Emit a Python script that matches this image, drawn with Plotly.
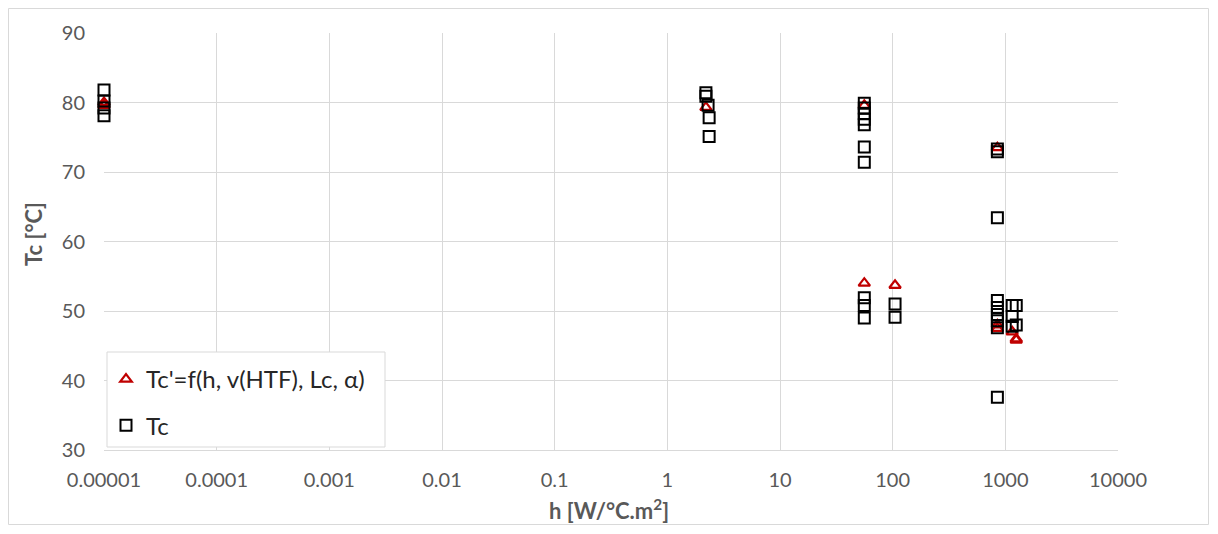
import plotly.graph_objects as go

# Tc' = f(h, v(HTF), Lc, alpha)  (red triangles)
h_pred = [1e-5, 1e-5, 2.2, 56, 56, 105, 850, 850, 850, 1150, 1250, 1250]
tc_pred = [80.0, 79.6, 79.3, 79.6, 54.0, 53.7, 73.5, 48.0, 47.5, 47.0, 45.8, 46.0]

# Tc (black squares)
h_meas = [1e-5, 1e-5, 1e-5, 1e-5,
          2.2, 2.2, 2.3, 2.35, 2.35,
          56, 56, 56, 56, 56, 56, 56, 56, 56, 56,
          105, 105,
          850, 850, 850, 850, 850, 850, 850, 850, 850,
          1150, 1150, 1150, 1250, 1250]
tc_meas = [81.8, 80.2, 79.2, 78.1,
           81.4, 80.9, 79.6, 77.8, 75.1,
           79.9, 79.2, 78.4, 77.6, 76.8, 73.6, 71.4, 51.9, 50.8, 49.0,
           51.0, 49.1,
           73.3, 72.9, 63.4, 51.5, 50.5, 49.5, 48.6, 47.6, 37.6,
           50.8, 49.2, 47.8, 50.8, 48.0]

x_tickvals = [1e-5, 1e-4, 1e-3, 1e-2, 1e-1, 1, 10, 100, 1000, 10000]
x_ticktext = ["0.00001", "0.0001", "0.001", "0.01", "0.1", "1", "10", "100", "1000", "10000"]
y_tickvals = [30, 40, 50, 60, 70, 80, 90]

x_title = "<b>h [W/°C.m<sup>2</sup>]</b>"
y_title = "<b>Tc [°C]</b>"
legend_pred = "Tc'=f(h, v(HTF), Lc, α)"
legend_meas = "Tc"

FONT = "Lato"
GRAY = "#595959"

fig = go.Figure()
fig.add_trace(go.Scatter(
    x=h_pred, y=tc_pred, mode="markers", name=legend_pred, legendgroup="a",
    cliponaxis=False,
    marker=dict(symbol="triangle-up-open", size=10, color="#c00000",
                line=dict(width=2.2, color="#c00000")),
))
fig.add_trace(go.Scatter(
    x=h_meas, y=tc_meas, mode="markers", name=legend_meas, legendgroup="b",
    cliponaxis=False,
    marker=dict(symbol="square-open", size=11, color="#000000",
                line=dict(width=2, color="#000000")),
))

# page has an 8px body margin; figure coordinates = page coordinates - 8
OFF = 8
W, H = 1218 - 2 * OFF, 534 - 2 * OFF
L, T = 104 - OFF, 33 - OFF
R = W - (1118 - OFF)
B = H - (450 - OFF)
pw, ph = W - L - R, H - T - B

def px_to_paper_x(px):
    return (px - OFF - L) / pw

def px_to_paper_y(py):
    return (H - B - (py - OFF)) / ph

shapes = [
    # outer chart border
    dict(type="rect", xref="paper", yref="paper",
         x0=px_to_paper_x(8.5), x1=px_to_paper_x(1208.5),
         y0=px_to_paper_y(524.5), y1=px_to_paper_y(8.5),
         line=dict(color="#d9d9d9", width=1), layer="below"),
    # vertical axis crossing at h=1
    dict(type="line", xref="x", yref="paper", x0=0, x1=0, y0=0, y1=1,
         line=dict(color="#bfbfbf", width=1.5)),
    # legend box
    dict(type="rect", xref="paper", yref="paper",
         x0=px_to_paper_x(107), x1=px_to_paper_x(385),
         y0=px_to_paper_y(447), y1=px_to_paper_y(352),
         line=dict(color="#d9d9d9", width=1), fillcolor="white", layer="above"),
]

annotations = [
    dict(text=x_title, xref="paper", yref="paper",
         x=px_to_paper_x(609), y=px_to_paper_y(526), xanchor="center", yanchor="bottom",
         showarrow=False, font=dict(family=FONT, size=22, color=GRAY)),
    dict(text=y_title, xref="paper", yref="paper", textangle=-90,
         x=px_to_paper_x(33), y=px_to_paper_y(234), xanchor="center", yanchor="middle",
         showarrow=False, font=dict(family=FONT, size=22, color=GRAY)),
]

fig.update_layout(
    width=W, height=H,
    margin=dict(l=L, r=R, t=T, b=B, autoexpand=False),
    paper_bgcolor="white", plot_bgcolor="white",
    font=dict(family=FONT, size=19, color=GRAY),
    showlegend=True,
    legend=dict(
        x=px_to_paper_x(106), y=px_to_paper_y(357), xanchor="left", yanchor="top",
        bgcolor="rgba(0,0,0,0)", borderwidth=0,
        font=dict(family=FONT, size=24, color="#262626"),
        traceorder="grouped", tracegroupgap=12,
    ),
    shapes=shapes,
    annotations=annotations,
    xaxis=dict(
        type="log", range=[-5, 4], tickvals=x_tickvals, ticktext=x_ticktext,
        showgrid=True, gridcolor="#d9d9d9", gridwidth=1,
        showline=True, linecolor="#d9d9d9", linewidth=1, mirror=False,
        zeroline=False, ticks="", tickfont=dict(size=20, color=GRAY),
        ticklabelstandoff=12, automargin=False,
    ),
    yaxis=dict(
        range=[30, 90], tickvals=y_tickvals,
        showgrid=True, gridcolor="#d9d9d9", gridwidth=1,
        showline=False, zeroline=False, ticks="",
        tickfont=dict(size=20, color=GRAY),
        ticklabelstandoff=18, automargin=False,
    ),
)

fig.write_html("out.html")
